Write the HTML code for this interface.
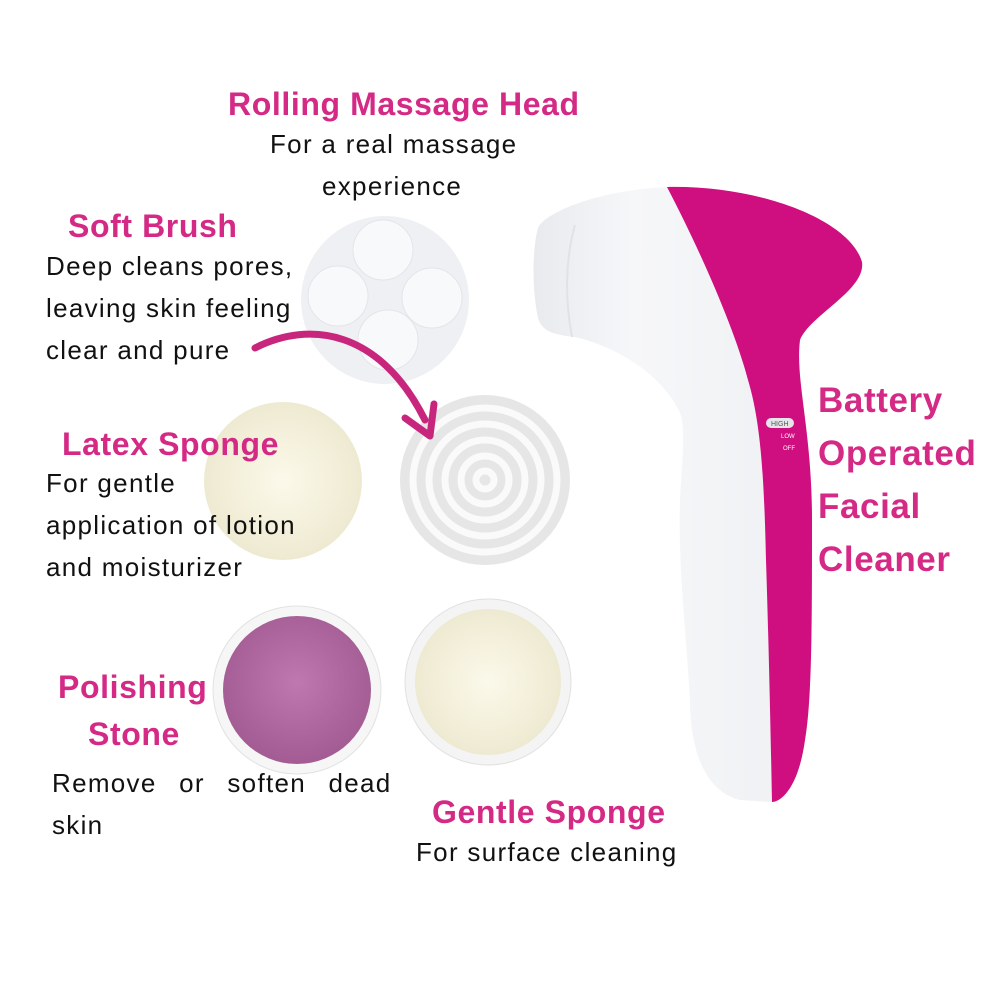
<!DOCTYPE html>
<html><head><meta charset="utf-8"><style>
html,body{margin:0;padding:0;background:#fff}
body{width:1001px;height:1001px;position:relative;overflow:hidden;font-family:"Liberation Sans",sans-serif}
.t{position:absolute;color:#d42a86;font-weight:bold;font-size:32px;white-space:nowrap;line-height:1;letter-spacing:0.6px}
.b{position:absolute;color:#111;font-size:26px;white-space:nowrap;line-height:42px;letter-spacing:1.3px}
</style></head><body>
<svg width="1001" height="1001" style="position:absolute;left:0;top:0">
<defs>
<radialGradient id="cr" cx="50%" cy="50%" r="55%"><stop offset="0" stop-color="#fbf9ea"/><stop offset="1" stop-color="#ede8cf"/></radialGradient>
<radialGradient id="pk" cx="50%" cy="45%" r="55%"><stop offset="0" stop-color="#bf78b0"/><stop offset="1" stop-color="#a35c93"/></radialGradient>
<linearGradient id="hd" x1="0" x2="1"><stop offset="0" stop-color="#e8eaee"/><stop offset="0.3" stop-color="#f6f7f9"/><stop offset="1" stop-color="#eceef1"/></linearGradient>
</defs>
<circle cx="385" cy="300" r="84" fill="#eef0f3"/>
<circle cx="383" cy="250" r="30" fill="#f8f9fb" stroke="#e3e5ea"/>
<circle cx="338" cy="296" r="30" fill="#f8f9fb" stroke="#e3e5ea"/>
<circle cx="432" cy="298" r="30" fill="#f8f9fb" stroke="#e3e5ea"/>
<circle cx="388" cy="340" r="30" fill="#f8f9fb" stroke="#e3e5ea"/>
<circle cx="485" cy="480" r="85" fill="#e6e6e7"/>
<g fill="none" stroke="#fafafa" stroke-width="7">
<circle cx="485" cy="480" r="72"/><circle cx="485" cy="480" r="56"/><circle cx="485" cy="480" r="40"/><circle cx="485" cy="480" r="24"/><circle cx="485" cy="480" r="9"/></g>
<circle cx="283" cy="481" r="79" fill="url(#cr)"/>
<circle cx="297" cy="690" r="84" fill="#f6f6f6" stroke="#e2e2e2"/>
<circle cx="297" cy="690" r="74" fill="url(#pk)"/>
<circle cx="488" cy="682" r="83" fill="#f4f4f4" stroke="#e0e0e0"/>
<circle cx="488" cy="682" r="73" fill="url(#cr)"/>
<path d="M255 348 C310 320 380 330 425 420" fill="none" stroke="#c8257d" stroke-width="7" stroke-linecap="round"/>
<path d="M405 418 L430 436 L434 404" fill="none" stroke="#c8257d" stroke-width="7" stroke-linecap="round" stroke-linejoin="round"/>
<!-- device -->
<path d="M667 187 C760 185 850 220 862 262 C866 290 810 315 800 340 C795 380 812 430 812 520 C812 620 812 700 805 740 C798 790 780 802 770 802 L740 800 C700 790 690 740 690 700 C685 620 678 560 680 500 C682 460 686 430 680 413 C660 370 610 345 575 337 C555 335 542 332 538 318 C532 290 532 250 538 228 C545 212 600 190 667 187 Z" fill="url(#hd)"/>
<path d="M667 187 C760 185 850 220 862 262 C866 290 810 315 800 340 C795 380 812 430 812 520 C812 620 812 700 805 740 C798 790 780 802 772 802 C770 700 768 620 766 560 C764 470 760 420 748 380 C735 330 700 250 667 187 Z" fill="#cf0f7f"/>
<path d="M575 225 C565 260 565 300 572 337" fill="none" stroke="#e0e2e6" stroke-width="2"/>
<rect x="766" y="418" width="28" height="10" rx="5" fill="#e6e6ea"/>
<text x="771" y="426" font-size="7" fill="#555" font-family="Liberation Sans">HIGH</text>
<text x="781" y="438" font-size="6" fill="#fff" font-family="Liberation Sans">LOW</text>
<text x="783" y="450" font-size="6" fill="#fff" font-family="Liberation Sans">OFF</text>
</svg>
<div class="t" style="left:228px;top:88px">Rolling Massage Head</div>
<div class="b" style="left:270px;top:123px">For a real massage</div>
<div class="b" style="left:322px;top:165px">experience</div>
<div class="t" style="left:68px;top:210px">Soft Brush</div>
<div class="b" style="left:46px;top:245px">Deep cleans pores,<br>leaving skin feeling<br>clear and pure</div>
<div class="t" style="left:62px;top:428px">Latex Sponge</div>
<div class="b" style="left:46px;top:462px">For gentle<br>application of lotion<br>and moisturizer</div>
<div class="t" style="left:58px;top:671px">Polishing</div>
<div class="t" style="left:88px;top:718px">Stone</div>
<div class="b" style="left:52px;top:762px;word-spacing:14px">Remove or soften dead</div>
<div class="b" style="left:52px;top:804px">skin</div>
<div class="t" style="left:432px;top:796px">Gentle Sponge</div>
<div class="b" style="left:416px;top:831px">For surface cleaning</div>
<div class="t" style="left:818px;top:374px;font-size:35px;line-height:53px">Battery<br>Operated<br>Facial<br>Cleaner</div>
</body></html>
